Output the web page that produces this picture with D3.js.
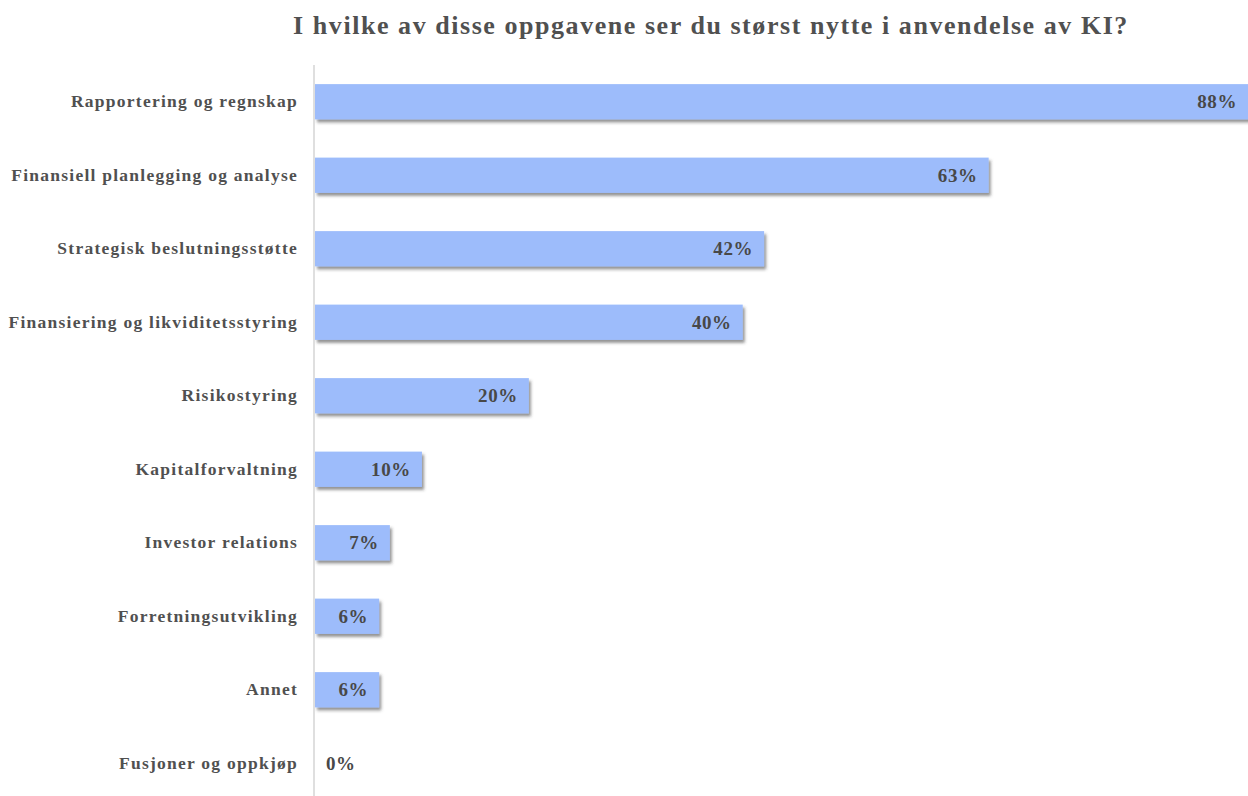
<!DOCTYPE html>
<html>
<head>
<meta charset="utf-8">
<script src="https://cdn.jsdelivr.net/npm/d3@7"></script>
<style>
  html, body { margin: 0; padding: 0; background: #ffffff; }
  svg { display: block; }
  text { font-family: "Liberation Serif", "Times New Roman", serif; font-weight: bold; }
</style>
</head>
<body>
<svg id="chart" width="1248" height="796"></svg>
<script>
const title = "I hvilke av disse oppgavene ser du størst nytte i anvendelse av KI?";
const categories = [
  "Rapportering og regnskap",
  "Finansiell planlegging og analyse",
  "Strategisk beslutningsstøtte",
  "Finansiering og likviditetsstyring",
  "Risikostyring",
  "Kapitalforvaltning",
  "Investor relations",
  "Forretningsutvikling",
  "Annet",
  "Fusjoner og oppkjøp"
];
const values = [88, 63, 42, 40, 20, 10, 7, 6, 6, 0];

const W = 1248, H = 796;
const svg = d3.select("#chart");

// soft drop shadow under each bar
const defs = svg.append("defs");
const f = defs.append("filter").attr("id", "shadow")
  .attr("x", "-5%").attr("y", "-20%").attr("width", "115%").attr("height", "150%");
f.append("feDropShadow")
  .attr("dx", 2).attr("dy", 3).attr("stdDeviation", 1.4)
  .attr("flood-color", "#3a3a3a").attr("flood-opacity", 0.55);

const x = d3.scaleLinear().domain([0, 88]).range([315, 1256]);
const y = d3.scaleBand().domain(categories).range([65, 800])
  .paddingInner(0.52).paddingOuter(0.26);

// title
svg.append("text")
  .attr("x", 711).attr("y", 34)
  .attr("text-anchor", "middle")
  .attr("font-size", 26)
  .attr("letter-spacing", 1.55)
  .attr("fill", "#505050")
  .text(title);

// bars
const rows = categories.map((c, i) => ({ c, v: values[i] }));
svg.append("g").selectAll("rect")
  .data(rows.filter(d => d.v > 0))
  .join("rect")
  .attr("x", x(0))
  .attr("y", d => y(d.c))
  .attr("width", d => x(d.v) - x(0))
  .attr("height", y.bandwidth())
  .attr("fill", "#9dbcfb")
  .attr("filter", "url(#shadow)");

// category axis (left)
const axis = svg.append("g")
  .attr("transform", `translate(${x(0) - 1},0)`)
  .call(d3.axisLeft(y).tickSize(0).tickPadding(16));
axis.select(".domain").remove();
axis.append("line")
  .attr("x1", 0).attr("x2", 0)
  .attr("y1", 65).attr("y2", H)
  .attr("stroke", "#d4d4d4").attr("stroke-width", 1.5);
axis.selectAll(".tick text")
  .attr("font-family", "'Liberation Serif', 'Times New Roman', serif")
  .attr("font-weight", "bold")
  .attr("font-size", 17.5)
  .attr("letter-spacing", 1.25)
  .attr("fill", "#505050");

// value labels
svg.append("g").selectAll("text")
  .data(rows)
  .join("text")
  .attr("x", d => d.v > 0 ? Math.min(x(d.v), W) - 11 : x(0) + 11)
  .attr("y", d => y(d.c) + y.bandwidth() / 2)
  .attr("dy", "0.35em")
  .attr("text-anchor", d => d.v > 0 ? "end" : "start")
  .attr("font-size", 19)
  .attr("letter-spacing", 0.6)
  .attr("fill", "#484848")
  .text(d => d.v + "%");
</script>
</body>
</html>
